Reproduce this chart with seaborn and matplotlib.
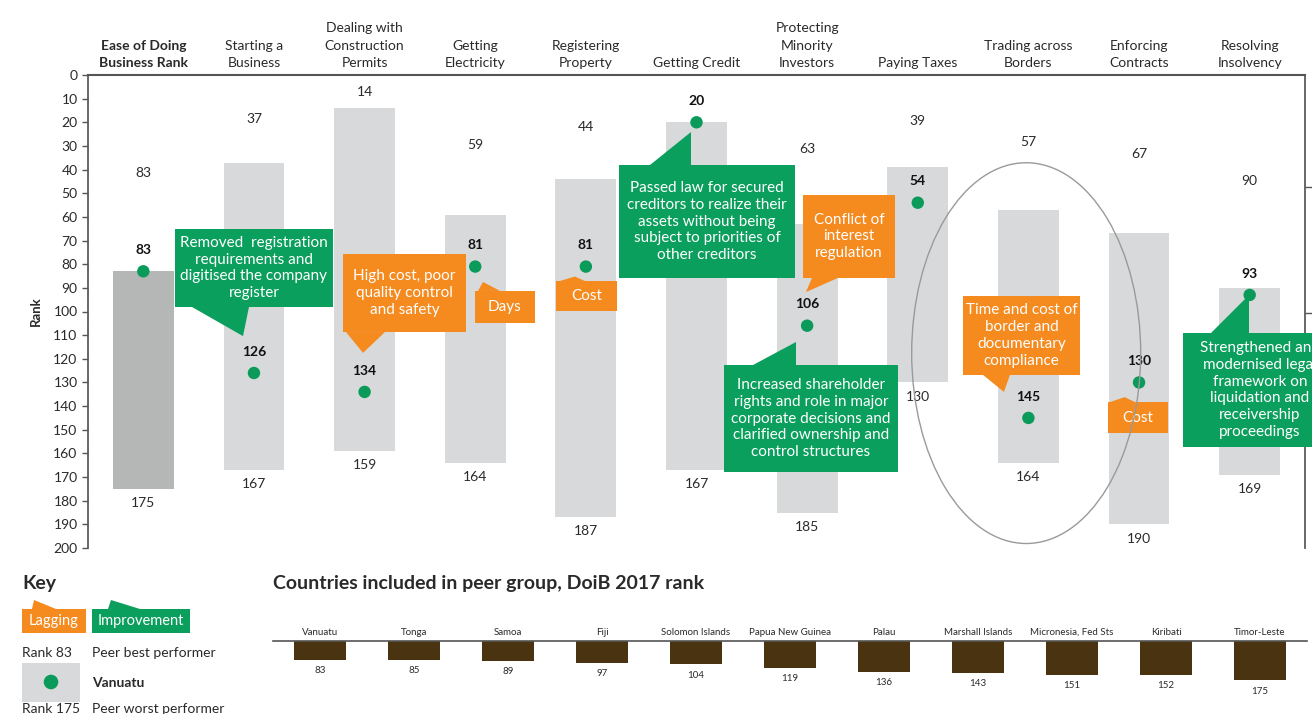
import numpy as np
import pandas as pd
import matplotlib.pyplot as plt
import seaborn as sns
from matplotlib.patches import Rectangle, Polygon, Ellipse

# Doing Business indicators (columns of the chart)
indicators = ["Ease of Doing\nBusiness Rank", "Starting a\nBusiness", "Dealing with\nConstruction\nPermits",
              "Getting\nElectricity", "Registering\nProperty", "Getting Credit",
              "Protecting\nMinority\nInvestors", "Paying Taxes", "Trading across\nBorders",
              "Enforcing\nContracts", "Resolving\nInsolvency"]
peer_best = [83, 37, 14, 59, 44, 20, 63, 39, 57, 67, 90]
peer_worst = [175, 167, 159, 164, 187, 167, 185, 130, 164, 190, 169]
vanuatu_rank = [83, 126, 134, 81, 81, 20, 106, 54, 145, 130, 93]

# peer group, DoiB 2017 rank
peer_countries = ["Vanuatu", "Tonga", "Samoa", "Fiji", "Solomon Islands", "Papua New Guinea", "Palau",
                  "Marshall Islands", "Micronesia, Fed Sts", "Kiribati", "Timor-Leste"]
peer_ranks = [83, 85, 89, 97, 104, 119, 136, 143, 151, 152, 175]

ORANGE = "#f58a1f"
GREEN = "#0b9f5d"
DOT = "#0a9a5a"
LIGHT = "#d8d9da"
DARK = "#b5b6b6"
BROWN = "#4a3311"
TXT = "#2a2a2a"

sns.set_theme(style="white")
plt.rcParams["font.family"] = ["Lato", "DejaVu Sans"]

fig = plt.figure(figsize=(13.12, 7.14), dpi=100)

# overlay in pixel units for the key and headings
kax = fig.add_axes([0, 0, 1, 1])
kax.set_xlim(0, 1312)
kax.set_ylim(714, 0)
kax.axis("off")

# main chart
ax = fig.add_axes([88 / 1312, 1 - 548 / 714, (1305 - 88) / 1312, (548 - 75) / 714])
df = pd.DataFrame({"indicator": indicators, "best": peer_best, "worst": peer_worst, "vanuatu": vanuatu_rank})
df["span"] = df["worst"] - df["best"]
df["pos"] = np.arange(len(df))

sns.barplot(data=df, x="indicator", y="span", bottom=df["best"].to_numpy(), color=LIGHT,
            saturation=1, width=0.55, linewidth=0, ax=ax)
ax.patches[0].set_facecolor(DARK)
sns.scatterplot(data=df, x="pos", y="vanuatu", color=DOT, s=80, edgecolor="none",
                zorder=6, legend=False, ax=ax)

for i, row in df.iterrows():
    # best label sits mid-way to the top; skip it when Vanuatu's own label lands on it
    if abs(row["best"] / 2 - (row["vanuatu"] - 9)) > 5:
        ax.text(i, row["best"] / 2, str(row["best"]), ha="center", va="center", fontsize=10, color=TXT, zorder=7)
    ax.text(i, row["worst"] + 6, str(row["worst"]), ha="center", va="center", fontsize=10, color=TXT, zorder=7)
    ax.text(i, row["vanuatu"] - 9, str(row["vanuatu"]), ha="center", va="center", fontsize=10,
            fontweight="bold", color="#111", zorder=7)

ax.set_xlim(-0.5, 10.5)
ax.set_ylim(200, 0)
ax.set_xticks(range(len(indicators)))
ax.set_xticklabels(indicators)
ax.xaxis.tick_top()
ax.tick_params(axis="x", length=0, pad=4, labelsize=10, labelcolor=TXT)
for t in ax.get_xticklabels():
    t.set_linespacing(1.55)
ax.get_xticklabels()[0].set_fontweight("bold")
ax.set_yticks(range(0, 201, 10))
ax.tick_params(axis="y", length=4, width=1, color="#555", labelsize=10, labelcolor=TXT, left=True)
ax.set_xlabel("")
ax.set_ylabel("Rank", fontsize=9.5, fontweight="bold", color=TXT, labelpad=8)
for side in ["top", "left", "right"]:
    ax.spines[side].set_visible(True)
    ax.spines[side].set_color("#555")
ax.spines["top"].set_linewidth(1.5)
ax.spines["bottom"].set_visible(False)

ax2 = ax.twinx()
ax2.set_ylim(200, 0)
ax2.set_yticks([47.5, 100.5])
ax2.set_yticklabels([])
ax2.tick_params(axis="y", length=6, width=1, color="#555", right=True)
for s in ax2.spines.values():
    s.set_visible(False)

# callouts: text, colour, box (x0, x1, y0, y1), pointer triangle
notes = [
    ("Removed  registration\nrequirements and\ndigitised the company\nregister", GREEN,
     (0.286, 1.714, 65.1, 98.1), [(0.440, 98.1), (0.955, 98.1), (0.901, 110.4)]),
    ("High cost, poor\nquality control\nand safety", ORANGE,
     (1.805, 2.917, 75.7, 108.7), [(1.832, 108.7), (2.184, 108.7), (1.986, 117.5)]),
    ("Days", ORANGE, (2.998, 3.540, 91.3, 104.9), [(3.025, 91.3), (3.224, 91.3), (3.07, 87.5)]),
    ("Cost", ORANGE, (3.730, 4.281, 87.1, 99.8), [(3.766, 87.1), (3.992, 87.1), (3.90, 85.2)]),
    ("Passed law for secured\ncreditors to realize their\nassets without being\nsubject to priorities of\nother creditors",
     GREEN, (4.299, 5.890, 38.1, 85.8), [(4.580, 38.1), (4.950, 38.1), (4.950, 24.1)]),
    ("Conflict of\ninterest\nregulation", ORANGE,
     (5.962, 6.794, 50.7, 85.8), [(6.044, 85.8), (6.279, 85.8), (5.989, 91.8)]),
    ("Increased shareholder\nrights and role in major\ncorporate decisions and\nclarified ownership and\ncontrol structures",
     GREEN, (5.248, 6.821, 122.6, 167.9), [(5.510, 122.6), (5.899, 122.6), (5.899, 112.9)]),
    ("Time and cost of\nborder and\ndocumentary\ncompliance", ORANGE,
     (7.409, 8.466, 93.4, 126.8), [(7.589, 126.8), (7.833, 126.8), (7.779, 134.0)]),
    ("Cost", ORANGE, (8.719, 9.261, 138.3, 151.4), [(8.737, 138.3), (8.963, 138.3), (8.87, 136.2)]),
    ("Strengthened and\nmodernised legal\nframework on\nliquidation and\nreceivership\nproceedings", GREEN,
     (9.397, 10.789, 109.1, 157.3), [(9.650, 109.1), (9.994, 109.1), (9.994, 93.0)]),
]
for text, col, (x0, x1, y0, y1), tri in notes:
    ax.add_patch(Rectangle((x0, y0), x1 - x0, y1 - y0, facecolor=col, edgecolor="none", zorder=4, clip_on=False))
    ax.add_patch(Polygon(tri, closed=True, facecolor=col, edgecolor="none", zorder=4, clip_on=False))
    ax.text((x0 + x1) / 2, (y0 + y1) / 2, text, ha="center", va="center", fontsize=11, color="white",
            linespacing=1.25, zorder=5, clip_on=False)

ax.add_patch(Ellipse((7.98, 117.6), 2.07, 161, fill=False, edgecolor="#9a9a9a", linewidth=1, zorder=8, clip_on=False))

# key
kax.text(22, 583, "Key", fontsize=14, fontweight="bold", color=TXT, va="center")
kax.add_patch(Rectangle((22, 609), 64, 24, facecolor=ORANGE, edgecolor="none"))
kax.add_patch(Polygon([(32, 609), (34, 600), (56, 609)], facecolor=ORANGE, edgecolor="none"))
kax.text(54, 621, "Lagging", color="white", fontsize=10.5, ha="center", va="center")
kax.add_patch(Rectangle((92, 609), 98, 24, facecolor=GREEN, edgecolor="none"))
kax.add_patch(Polygon([(108, 609), (111, 600), (140, 609)], facecolor=GREEN, edgecolor="none"))
kax.text(141, 621, "Improvement", color="white", fontsize=10.5, ha="center", va="center")
kax.text(22, 653, "Rank 83", fontsize=10, color=TXT, va="center")
kax.text(92, 653, "Peer best performer", fontsize=10, color=TXT, va="center")
kax.add_patch(Rectangle((22, 663), 58, 39, facecolor=LIGHT, edgecolor="none"))
kax.scatter([51], [682], s=110, color=DOT, edgecolor="none")
kax.text(92, 683, "Vanuatu", fontsize=10, fontweight="bold", color=TXT, va="center")
kax.text(22, 709, "Rank 175", fontsize=10, color=TXT, va="center")
kax.text(92, 709, "Peer worst performer", fontsize=10, color=TXT, va="center")
kax.text(273, 583, "Countries included in peer group, DoiB 2017 rank", fontsize=14,
         fontweight="bold", color=TXT, va="center")

# peer group ranks
cax = fig.add_axes([273 / 1312, 0, (1307 - 273) / 1312, 1 - 641 / 714])
peers = pd.DataFrame({"country": peer_countries, "rank": peer_ranks})
sns.barplot(data=peers, x="country", y="rank", color=BROWN, saturation=1, width=0.55, linewidth=0, ax=cax)
for i, r in enumerate(peer_ranks):
    cax.text(i, r + 47, str(r), ha="center", va="center", fontsize=7, color=TXT)
cax.set_ylim(324, 0)
cax.set_xlim(-0.5, 10.5)
cax.xaxis.tick_top()
cax.tick_params(axis="x", length=0, pad=3, labelsize=7, labelcolor=TXT)
cax.set_yticks([])
cax.set_xlabel("")
cax.set_ylabel("")
for side in ["left", "right", "bottom"]:
    cax.spines[side].set_visible(False)
cax.spines["top"].set_visible(True)
cax.spines["top"].set_color("#555")
cax.spines["top"].set_linewidth(1.2)

fig.savefig("out.png", dpi=100)
